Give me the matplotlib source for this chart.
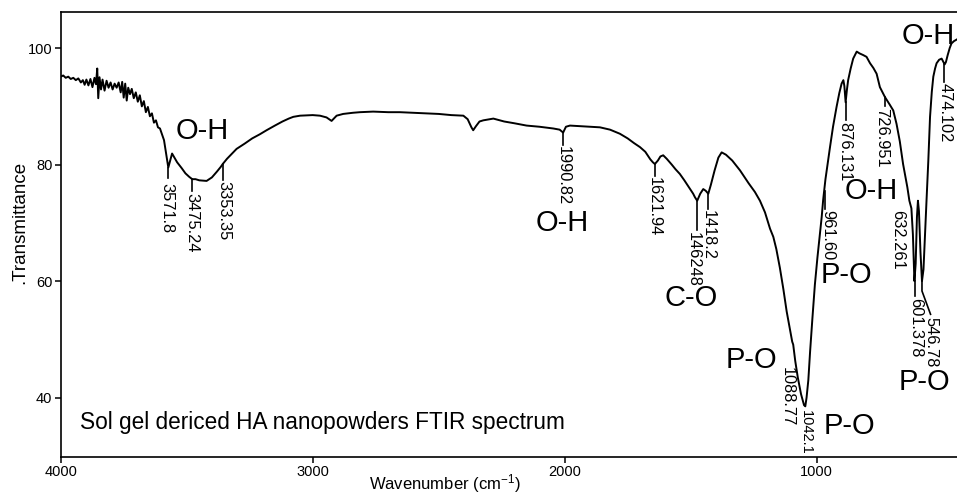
import matplotlib
matplotlib.use('Agg')
import matplotlib.pyplot as plt

plt.rcParams['font.family'] = ['Liberation Sans', 'DejaVu Sans']
plt.rcParams['mathtext.fontset'] = 'custom'
plt.rcParams['mathtext.rm'] = 'Liberation Sans'
plt.rcParams['mathtext.it'] = 'Liberation Sans:italic'

# ---------------- data ----------------
wavenumber = [
    4000, 3990, 3980, 3970, 3960, 3950, 3940, 3930, 3920, 3912, 3905, 3898, 3890, 3882,
    3874, 3866, 3860, 3855, 3851, 3846, 3840, 3834, 3826, 3818, 3810, 3802, 3794, 3786,
    3778, 3770, 3762, 3756, 3750, 3744, 3738, 3732, 3725, 3718, 3710, 3702, 3694, 3686,
    3678, 3670, 3662, 3654, 3646, 3638, 3630, 3622, 3614, 3606, 3598, 3590, 3584, 3578,
    3573, 3566, 3558, 3550, 3538, 3520, 3505, 3490, 3478, 3465, 3450, 3421, 3400, 3380,
    3365, 3357, 3340, 3320, 3302, 3270, 3240, 3210, 3183, 3150, 3120, 3095, 3077, 3050,
    3000, 2971, 2945, 2925, 2905, 2879, 2840, 2812, 2760, 2700, 2654, 2600, 2550, 2500,
    2450, 2402, 2385, 2370, 2363, 2352, 2338, 2323, 2283, 2240, 2200, 2151, 2100, 2045,
    2020, 2006, 1995, 1979, 1940, 1900, 1860, 1820, 1781, 1750, 1725, 1701, 1680, 1660,
    1650, 1642, 1630, 1620, 1609, 1595, 1575, 1560, 1543, 1525, 1505, 1490, 1483, 1474,
    1462, 1450, 1440, 1430, 1420, 1405, 1390, 1377, 1360, 1335, 1304, 1270, 1245, 1225,
    1205, 1185, 1172, 1160, 1146, 1132, 1119, 1105, 1097, 1093, 1085, 1075, 1062, 1050,
    1045, 1040, 1033, 1026, 1017, 1007, 997, 987, 980, 974, 965, 947, 935, 921,
    910, 901, 894, 890, 885, 880, 875, 865, 855, 841, 830, 815, 802, 788,
    775, 762, 749, 729, 710, 696, 683, 670, 657, 648, 640, 632, 624, 618,
    612, 607, 602, 598, 594, 588, 582, 576, 570, 564, 557, 550, 543, 537,
    530, 524, 514, 504, 497, 492, 487, 480, 472, 465, 455, 443,
]
transmittance = [
    95.1, 95.3, 94.9, 95.1, 94.7, 94.9, 94.5, 94.8, 94.1, 94.5, 93.7, 94.6, 93.6, 94.7,
    93.3, 94.9, 93.8, 96.5, 91.4, 95.0, 92.9, 94.6, 92.7, 94.4, 93.2, 94.1, 92.9, 93.9,
    93.2, 94.1, 92.4, 94.2, 91.5, 93.9, 91.0, 93.2, 92.1, 93.0, 91.4, 92.4, 90.8, 91.9,
    90.0, 90.9, 89.0, 89.9, 88.3, 88.8, 87.2, 87.6, 86.4, 86.2, 85.2, 84.2, 82.5, 80.8,
    79.5, 80.6, 81.9, 81.3, 80.4, 79.4, 78.5, 77.9, 77.5, 77.5, 77.3, 77.2, 77.8, 78.8,
    79.6, 80.1, 81.0, 81.9, 82.7, 83.6, 84.5, 85.2, 85.9, 86.7, 87.4, 87.9, 88.2, 88.4,
    88.5, 88.4, 88.1, 87.5, 88.4, 88.7, 88.9, 89.0, 89.1, 89.0, 89.0, 88.9, 88.8, 88.7,
    88.5, 88.4, 87.8, 86.4, 85.9, 86.6, 87.4, 87.6, 87.9, 87.4, 87.1, 86.7, 86.5, 86.2,
    86.0, 85.5, 86.5, 86.7, 86.6, 86.5, 86.4, 86.0, 85.3, 84.5, 83.7, 83.0, 82.2, 80.9,
    80.4, 80.1, 80.7, 81.4, 81.6, 81.0, 80.0, 79.2, 78.4, 77.3, 76.0, 75.0, 74.4, 73.8,
    75.0, 75.8, 75.5, 75.0, 76.5, 79.0, 81.2, 82.1, 81.7, 80.7, 79.0, 76.8, 75.3, 73.8,
    71.8, 69.0, 67.6, 65.5, 62.3, 58.6, 54.8, 51.5, 49.6, 49.1, 46.3, 43.5, 40.6, 38.7,
    38.5, 40.0, 43.0, 47.9, 53.5, 59.4, 64.0, 68.1, 71.0, 74.0, 77.5, 83.0, 86.5, 89.9,
    92.3, 93.9, 94.5, 93.5, 90.7, 92.8, 94.5, 96.5, 98.2, 99.4, 99.1, 98.8, 98.5, 97.4,
    96.6, 95.6, 93.3, 91.6, 90.3, 89.3, 87.0, 84.0, 80.1, 78.0, 76.1, 73.8, 72.5, 68.0,
    60.0, 63.0, 71.0, 73.8, 72.0, 65.0, 60.0, 62.0, 68.0, 73.8, 80.5, 88.2, 92.5, 95.1,
    96.5, 97.4, 98.0, 98.2, 97.6, 97.2, 97.6, 98.8, 100.0, 100.8, 101.2, 101.5,
]

x_ticks = [4000, 3000, 2000, 1000]
y_ticks = [40, 60, 80, 100]

# peak labels
peak_text = ['3571.8', '3475.24', '3353.35', '1990.82', '1621.94', '146248', '1418.2',
             '1088.77', '1042.1', '961.60', '876.131', '726.951', '632.261', '601.378',
             '546.78', '474.102']
peak_line_wn = [3573, 3478, 3357, 2006, 1642, 1475, 1430, None, None, 968, 885, 729,
                None, 611, 582, 495]
peak_line_top = [79.5, 77.5, 80.1, 85.5, 80.1, 73.8, 75.0, None, None, 75.5, 90.7, 91.6,
                 None, 60.0, 60.0, 97.4]
peak_line_bottom = [77.7, 75.4, 77.4, 83.4, 78.1, 68.8, 72.4, None, None, 72.4, 87.7, 90.0,
                    None, 57.4, 58.3, 94.2]
peak_text_wn = [3579, 3478, 3352, 2007, 1646, 1490, 1430, 1117, 1042, 954, 890, 742,
                678, 607, 545, 491]
peak_text_top = [76.9, 75.1, 77.1, 83.2, 77.9, 68.5, 72.2, 45.2, 37.9, 72.2, 87.4, 89.7,
                 72.2, 57.1, 53.9, 94.0]

# group (bond) labels
group_text = ['O-H', 'O-H', 'C-O', 'P-O', 'P-O', 'P-O', 'P-O', 'O-H', 'O-H']
group_wn = [3439, 2011, 1499, 880, 1257, 870, 574, 784, 556]
group_val = [85.8, 70.0, 57.1, 61.0, 46.4, 35.2, 42.7, 75.5, 102.1]

caption = 'Sol gel dericed HA nanopowders FTIR spectrum'

# ---------------- figure ----------------
W, H = 957, 495
fig = plt.figure(figsize=(W / 100, H / 100), dpi=100)
left, bottom_px, top_px = 60.7, 457, 12
ax = fig.add_axes([left / W, 1 - bottom_px / H, 1 - left / W, (bottom_px - top_px) / H])

ax.plot(wavenumber, transmittance, color='black', lw=1.4, solid_joinstyle='round')
ax.set_xlim(4000, 443)
ax.set_ylim(29.8, 106.2)
ax.set_xticks(x_ticks)
ax.set_yticks(y_ticks)
ax.spines['right'].set_visible(False)
for s in ['left', 'top', 'bottom']:
    ax.spines[s].set_linewidth(1.2)
ax.tick_params(direction='out', length=4, width=1.1, labelsize=10.5, pad=2)

for t, lw_, lt, lb, tw, tt in zip(peak_text, peak_line_wn, peak_line_top, peak_line_bottom,
                                  peak_text_wn, peak_text_top):
    if lw_ is not None:
        if t == '546.78':
            ax.plot([lw_, lw_, tw + 3], [lt, lb, tt + 0.4], color='black', lw=1.2)
        else:
            ax.plot([lw_, lw_], [lt, lb], color='black', lw=1.2)
    fs = 10.5 if t == '1042.1' else 11.8
    ax.text(tw, tt, t, rotation=-90, ha='center', va='top', fontsize=fs, zorder=4)

for t, gw, gv in zip(group_text, group_wn, group_val):
    ax.text(gw, gv, t, ha='center', va='center', fontsize=21, clip_on=False)

ax.text(3923, 35.7, caption, ha='left', va='center', fontsize=16.3)

fig.text(445 / W, 1 - 484 / H, r'Wavenumber (cm$^{\mathregular{-1}}$)', ha='center',
         va='center', fontsize=12)
fig.text(20 / W, 1 - 222 / H, '.Transmittance', rotation=90, ha='center', va='center',
         fontsize=13.5)

fig.savefig('out.png', dpi=100)
